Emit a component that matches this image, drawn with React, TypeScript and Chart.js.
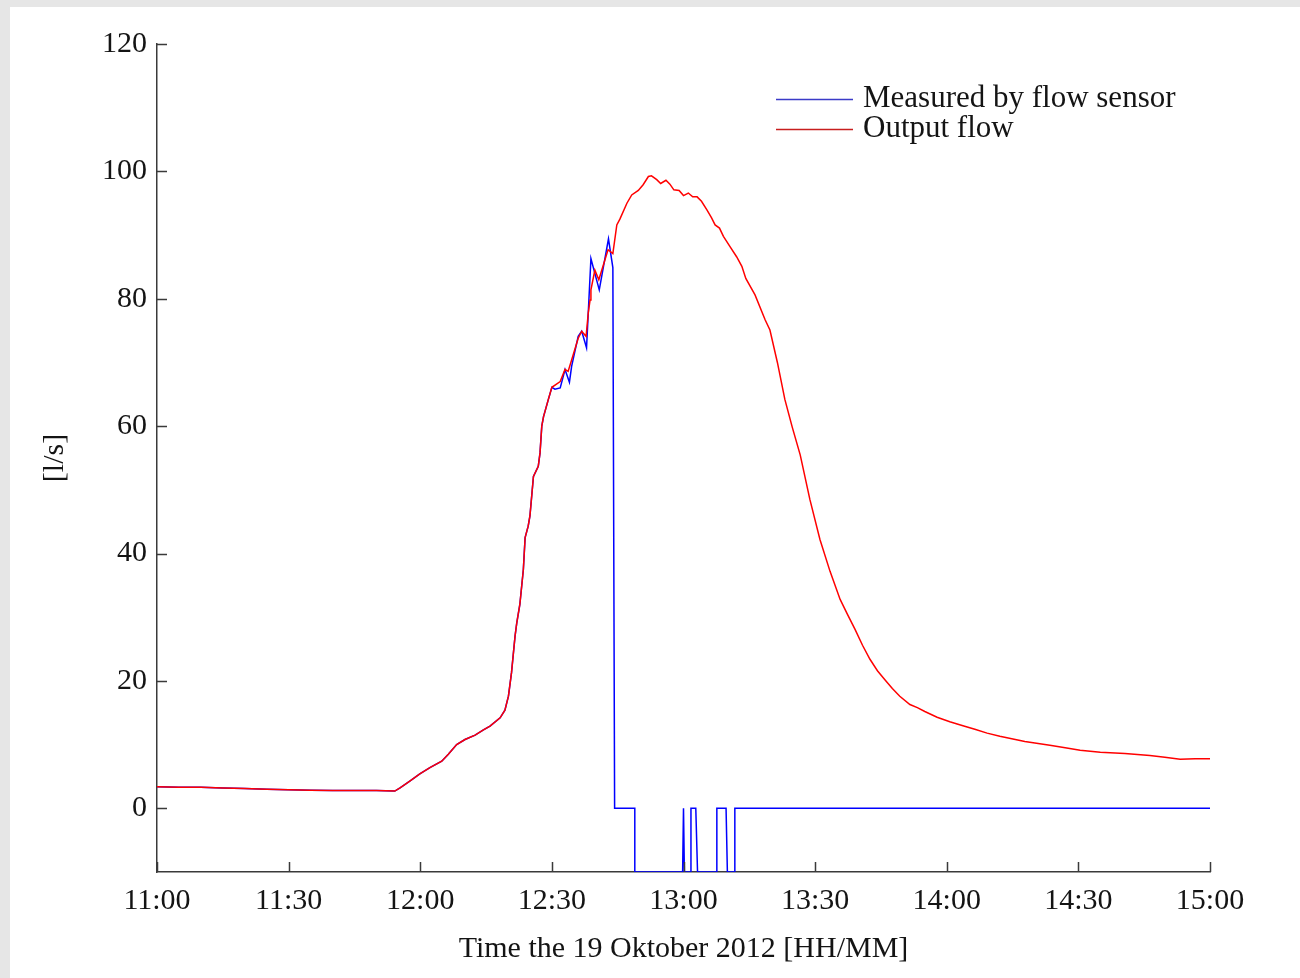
import React, { useEffect, useRef } from "react";
import { Chart, registerables } from "chart.js";

Chart.register(...registerables);

// Minutes after 11:00
const xTickMinutes = [0, 30, 60, 90, 120, 150, 180, 210, 240];
const yTickValues = [0, 20, 40, 60, 80, 100, 120];
const startHour = 11;

const outputMinutes = [
  0, 5, 10, 15, 20, 25, 30, 35, 40, 45, 50, 54.2, 55.4, 57.7, 59.9, 62.2, 64.9, 66.4, 68.3, 70.2,
  72.5, 74.4, 75.9, 78.2, 79.3, 80.1, 80.8, 81.6, 82.0, 82.7, 83.5, 83.9, 84.6, 85.0, 85.8, 86.9,
  87.3, 87.7, 88.1, 89.2, 90.0, 91.9, 93.0, 93.7, 94.5, 96.0, 96.8, 97.8, 98.3, 98.7, 98.9, 99.8,
  100.7, 102.8, 103.9, 104.8, 105.5, 107.1, 108.2, 109.7, 110.8, 112.0, 112.7, 113.9, 114.8, 116.0,
  116.9, 117.8, 119.0, 120.0, 121.1, 122.1, 123.1, 124.1, 125.3, 126.4, 127.2, 128.2, 129.1, 130.6,
  132.1, 133.3, 134.2, 136.3, 138.6, 139.7, 141.4, 143.1, 144.8, 146.6, 148.8, 151.1, 153.4, 155.7,
  157.4, 159.1, 160.8, 162.5, 164.2, 165.9, 167.6, 169.3, 171.6, 173.3, 175.0, 177.8, 180.7, 183.5,
  186.4, 189.2, 192.1, 197.8, 203.5, 207.0, 210.4, 215.0, 220.6, 226.3, 229.7, 233.2, 236.6, 240,
];
const outputFlow = [
  3.4, 3.3, 3.3, 3.2, 3.1, 3.0, 2.9, 2.85, 2.8, 2.8, 2.8, 2.7, 3.2, 4.3, 5.4, 6.4, 7.4, 8.5, 10.0, 10.8,
  11.5, 12.3, 12.9, 14.2, 15.4, 17.6, 21.3, 27.0, 29.1, 32.0, 37.5, 42.5, 44.3, 45.9, 52.1, 53.7,
  55.8, 60.0, 61.5, 64.2, 66.1, 67.0, 68.9, 68.6, 70.4, 73.8, 74.9, 74.1, 77.8, 79.8, 81.4, 84.5,
  83.0, 87.7, 87.1, 91.6, 92.5, 95.0, 96.3, 97.0, 97.9, 99.2, 99.3, 98.7, 98.1, 98.6,
  98.0, 97.1, 97.0, 96.2, 96.6, 96.0, 96.0, 95.3, 94.0, 92.7, 91.6, 91.1, 89.8, 88.2,
  86.6, 85.1, 83.2, 80.6, 76.7, 75.1, 70.0, 64.2, 59.8, 55.5, 48.5, 42.2, 37.2, 32.8,
  30.4, 28.1, 25.6, 23.4, 21.6, 20.2, 18.8, 17.6, 16.3, 15.8, 15.2, 14.3, 13.6, 13.0,
  12.4, 11.8, 11.3, 10.5, 9.9, 9.5, 9.1, 8.8, 8.6, 8.3, 8.0, 7.7, 7.8, 7.8,
];

const sensorMinutes = [
  0, 5, 10, 15, 20, 25, 30, 35, 40, 45, 50, 54.2, 55.4, 57.7, 59.9, 62.2, 64.9, 66.4, 68.3, 70.2,
  72.5, 74.4, 75.9, 78.2, 79.3, 80.1, 80.8, 81.6, 82.0, 82.7, 83.5, 83.9, 84.6, 85.0, 85.8, 86.9,
  87.3, 87.7, 88.1, 89.2, 90.0, 90.7, 91.9, 93.0, 94.0, 94.5, 96.0, 96.8, 97.9, 98.9, 100.8,
  102.9, 103.9, 104.3, 108.9, 108.9, 119.8, 120.0, 120.2, 121.6, 121.7, 122.8, 123.2, 127.5,
  127.6, 129.7, 130.0, 131.6, 131.7, 240,
];
const sensorFlow = [
  3.4, 3.3, 3.3, 3.2, 3.1, 3.0, 2.9, 2.85, 2.8, 2.8, 2.8, 2.7, 3.2, 4.3, 5.4, 6.4, 7.4, 8.5, 10.0, 10.8,
  11.5, 12.3, 12.9, 14.2, 15.4, 17.6, 21.3, 27.0, 29.1, 32.0, 37.5, 42.5, 44.3, 45.9, 52.1, 53.7,
  55.8, 60.0, 61.5, 64.2, 66.1, 65.8, 66.0, 68.9, 66.9, 69.4, 74.1, 74.9, 72.3, 86.3, 81.4,
  89.4, 84.9, 0, 0, -10, -10, 0, -10, -10, 0, 0, -10, -10,
  0, 0, -10, -10, 0, 0,
];

const seriesLabels = ["Measured by flow sensor", "Output flow"];
const legendColors = ["#3b3bc8", "#c81e1e"];
const yTitle = "[l/s]";
const xTitle = "Time the 19 Oktober 2012 [HH/MM]";

const FONT = "'Liberation Serif', 'Times New Roman', serif";
const TEXT = "#141414";
const AXIS = "#3a3a3a";

function fmt(m: number) {
  const total = startHour * 60 + m;
  const h = Math.floor(total / 60);
  const mm = Math.round(total % 60);
  return `${h}:${mm < 10 ? "0" + mm : mm}`;
}

const innerTicks = {
  id: "innerTicks",
  afterDraw(chart: any) {
    const { ctx, chartArea, scales } = chart;
    ctx.save();
    ctx.strokeStyle = AXIS;
    ctx.lineWidth = 1.5;
    ctx.beginPath();
    for (const t of scales.y.ticks) {
      const py = Math.round(scales.y.getPixelForValue(t.value)) + 0.5;
      ctx.moveTo(chartArea.left, py);
      ctx.lineTo(chartArea.left + 10, py);
    }
    for (const t of scales.x.ticks) {
      const px = Math.round(scales.x.getPixelForValue(t.value)) + 0.5;
      ctx.moveTo(px, chartArea.bottom);
      ctx.lineTo(px, chartArea.bottom - 10);
    }
    ctx.stroke();
    ctx.restore();
  },
};

const lineLegend = {
  id: "lineLegend",
  afterDraw(chart: any) {
    const { ctx } = chart;
    ctx.save();
    ctx.font = `31px ${FONT}`;
    ctx.textBaseline = "alphabetic";
    ctx.textAlign = "left";
    chart.data.datasets.forEach((ds: any, i: number) => {
      const y = 99 + i * 30;
      ctx.strokeStyle = legendColors[i];
      ctx.lineWidth = 1.3;
      ctx.beginPath();
      ctx.moveTo(776, y + 0.5);
      ctx.lineTo(853, y + 0.5);
      ctx.stroke();
      ctx.fillStyle = TEXT;
      ctx.fillText(ds.label, 863, y + 8);
    });
    ctx.restore();
  },
};

export default function App() {
  const ref = useRef<HTMLCanvasElement | null>(null);

  useEffect(() => {
    if (!ref.current) return;
    const chart = new Chart(ref.current, {
      type: "line",
      data: {
        datasets: [
          {
            label: seriesLabels[0],
            data: sensorMinutes.map((m, i) => ({ x: m, y: sensorFlow[i] })),
            borderColor: "#0000ff",
            borderWidth: 1.5,
            pointRadius: 0,
            tension: 0,
            fill: false,
            order: 1,
          },
          {
            label: seriesLabels[1],
            data: outputMinutes.map((m, i) => ({ x: m, y: outputFlow[i] })),
            borderColor: "#ff0000",
            borderWidth: 1.5,
            pointRadius: 0,
            tension: 0,
            fill: false,
            order: 0,
          },
        ],
      },
      options: {
        responsive: false,
        animation: false,
        layout: { padding: { top: 44, right: 90, left: 0, bottom: 0 } },
        plugins: { legend: { display: false }, tooltip: { enabled: false } },
        scales: {
          x: {
            type: "linear",
            min: 0,
            max: 240,
            afterBuildTicks: (s: any) => {
              s.ticks = xTickMinutes.map((v) => ({ value: v }));
            },
            afterFit: (s: any) => {
              s.height = 106;
            },
            grid: { display: false, drawTicks: false },
            border: { display: true, color: AXIS, width: 1.5 },
            ticks: {
              autoSkip: false,
              maxRotation: 0,
              padding: 11,
              color: TEXT,
              font: { family: FONT, size: 30 },
              callback: (v: any) => fmt(Number(v)),
            },
            title: {
              display: true,
              text: xTitle,
              color: TEXT,
              font: { family: FONT, size: 30 },
              padding: { top: 0, bottom: 11 },
            },
          },
          y: {
            type: "linear",
            min: -10,
            max: 120,
            afterBuildTicks: (s: any) => {
              s.ticks = yTickValues.map((v) => ({ value: v }));
            },
            afterFit: (s: any) => {
              s.width = 157;
            },
            grid: { display: false, drawTicks: false },
            border: { display: true, color: AXIS, width: 1.5 },
            ticks: {
              padding: 10,
              color: TEXT,
              font: { family: FONT, size: 30 },
            },
            title: {
              display: true,
              text: yTitle,
              color: TEXT,
              font: { family: FONT, size: 30 },
              padding: { top: 37, bottom: 0 },
            },
          },
        },
      },
      plugins: [innerTicks, lineLegend],
    });
    return () => chart.destroy();
  }, []);

  return (
    <div style={{ position: "fixed", left: 0, top: 0, width: 1300, height: 978, background: "#e6e6e6" }}>
      <div style={{ position: "absolute", left: 10, top: 7, width: 1290, height: 971, background: "#ffffff" }} />
      <canvas ref={ref} width={1300} height={978} style={{ position: "absolute", left: 0, top: 0 }} />
    </div>
  );
}
